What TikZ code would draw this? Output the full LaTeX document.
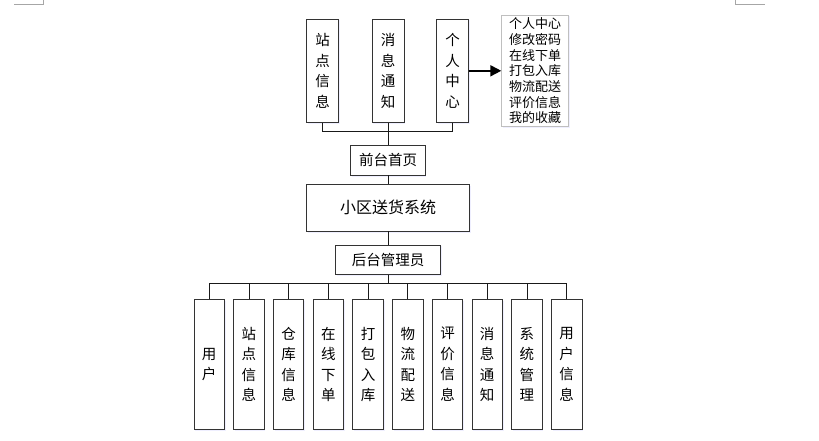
\documentclass[tikz,border=0pt]{standalone}
\usepackage{fontspec}
\setmainfont{Noto Sans CJK SC}
\usetikzlibrary{arrows.meta,shadows}

\tikzset{
  box/.style={draw=black!80, line width=0.8pt, fill=white, inner sep=0pt, align=center,
    drop shadow={fill=blue!12, shadow xshift=1.2pt, shadow yshift=-1.5pt}},
  vbox/.style={box, font=\fontsize{14.5}{20.5}\selectfont},
  hbox/.style={box, font=\fontsize{14.5}{17}\selectfont},
  link/.style={draw=black!90, line width=0.8pt},
}

\begin{document}
\begin{tikzpicture}[x=1pt,y=-1pt]
  \useasboundingbox (0,0) rectangle (819,441);
  \def\midx{388}
  \def\pitch{39.72}

  % page corner marks
  \draw[black!35, line width=0.6pt] (14,4.3) -- (43,4.3) -- (43,0);
  \draw[black!35, line width=0.6pt] (735,0) -- (735,4.3) -- (765,4.3);

  % front end
  \node[vbox, minimum width=32pt, minimum height=103.7pt] (site) at (322.7,70.8) {站\\点\\信\\息};
  \node[vbox, minimum width=32pt, minimum height=103.7pt] (msg) at (\midx,70.8) {消\\息\\通\\知};
  \node[vbox, minimum width=32pt, minimum height=103.7pt] (me) at (452.5,70.8) {个\\人\\中\\心};
  \node[box, draw=black!25, minimum width=67pt, minimum height=111.7pt,
        font=\fontsize{13}{15.7}\selectfont] (melist) at (535.2,70.8)
        {个人中心\\修改密码\\在线下单\\打包入库\\物流配送\\评价信息\\我的收藏};

  \node[hbox, minimum width=74.4pt, minimum height=30pt] (home) at (\midx,160) {前台首页};
  \node[box, font=\fontsize{16}{18}\selectfont, minimum width=163.3pt, minimum height=47pt] (sys) at (\midx,207.5) {小区送货系统};
  \node[hbox, minimum width=105.3pt, minimum height=29.3pt] (admin) at (\midx,259.6) {后台管理员};

  % back end
  \foreach \lbl [count=\i] in {{用\\户},{站\\点\\信\\息},{仓\\库\\信\\息},{在\\线\\下\\单},{打\\包\\入\\库},
      {物\\流\\配\\送},{评\\价\\信\\息},{消\\息\\通\\知},{系\\统\\管\\理},{用\\户\\信\\息}} {
    \pgfmathsetmacro{\x}{209.2+(\i-1)*\pitch}
    \node[vbox, minimum width=30.5pt, minimum height=130pt] (b\i) at (\x,364.3) {\lbl};
  }

  % connectors
  \coordinate (tbus) at (\midx,131.7);
  \coordinate (bbus) at (\midx,283.7);
  \draw[link] (site.south) |- (tbus) -| (me.south);
  \draw[link] (msg.south) -- (home.north);
  \draw[link] (home.south) -- (sys.north);
  \draw[link] (sys.south) -- (admin.north);
  \draw[link] (admin.south) -- (bbus);
  \draw[link] (b1.north) |- (bbus) -| (b10.north);
  \foreach \i in {2,...,9}
    \draw[link] (b\i.north) -- (b\i.north |- bbus);
  \draw[black, line width=1.8pt, -{Triangle[length=11pt,width=11pt]}] (me.east) -- (melist.west);
\end{tikzpicture}
\end{document}
